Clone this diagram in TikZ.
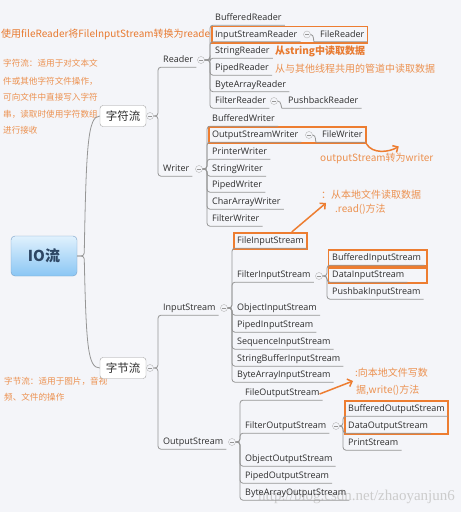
\documentclass[tikz,border=0pt]{standalone}
\usepackage{fontspec}
\setmainfont{Open Sans}
\newfontfamily\cjk{Noto Sans CJK SC}
\newfontfamily\wmfont{Liberation Serif}
\usetikzlibrary{arrows.meta,fit,calc}
\pgfdeclarelayer{back}
\pgfdeclarelayer{mid}
\pgfsetlayers{back,mid,main}
\definecolor{bgc}{RGB}{244,245,249}
\definecolor{linec}{RGB}{150,150,150}
\definecolor{txt}{RGB}{45,45,45}
\definecolor{ora}{RGB}{237,125,49}
\definecolor{oratext}{RGB}{232,122,48}
\definecolor{oralight}{RGB}{236,145,80}
\definecolor{rootTop}{RGB}{224,241,253}
\definecolor{rootBot}{RGB}{138,198,244}
\definecolor{rootLine}{RGB}{120,160,200}
\definecolor{rootTxt}{RGB}{45,70,100}
\tikzset{
  topic/.style={anchor=west, inner xsep=3pt, inner ysep=2.5pt, text height=7pt, text depth=2pt, font=\fontsize{9}{10}\selectfont, text=txt},
  coll/.style={circle, draw=linec!70, fill=bgc, minimum size=7pt, inner sep=0pt,
    path picture={\draw[linec, line width=0.6pt] ([xshift=-2pt]path picture bounding box.center) -- ([xshift=2pt]path picture bounding box.center);}},
  edge/.style={draw=linec, line width=0.8pt, rounded corners=3pt},
  mainbox/.style={draw=linec!90, fill=white, rounded corners=3pt, minimum width=46pt, minimum height=21pt, inner sep=0pt, font=\cjk\fontsize{11.5}{12}\selectfont, text=txt},
  obox/.style={draw=ora, line width=1.6pt, fill=bgc, inner xsep=0pt, inner ysep=1pt},
  oarrow/.style={draw=ora, line width=1.5pt, -{Straight Barb[length=4pt,width=8pt]}},
  note/.style={anchor=west, inner sep=0pt, font=\cjk\fontsize{10}{12}\selectfont, text=oralight},
  sidenote/.style={anchor=west, inner sep=0pt, font=\cjk\fontsize{8.6}{10}\selectfont, text=oralight},
}
\begin{document}
\begin{tikzpicture}[x=1pt,y=-1pt]
\begin{pgfonlayer}{back}
  \fill[bgc] (0,0) rectangle (461,512);
  \node[anchor=east, inner sep=0pt, font=\wmfont\fontsize{15}{15}\selectfont, text=black!20] (wm) at (455,497) {http://blog.csdn.net/zhaoyanjun6};
  \node[note, text=oratext] (annTop) at (1,34) {使用fileReader将FileInputStream转换为reader};
\end{pgfonlayer}
\useasboundingbox (0,0) rectangle (461,512);

% side notes
\node[sidenote] (annC1) at (3,63) {字符流：适用于对文本文};
\node[sidenote] (annC2) at (3,81) {件或其他字符文件操作，};
\node[sidenote] (annC3) at (3,97) {可向文件中直接写入字符};
\node[sidenote] (annC4) at (3,114) {串，读取时使用字符数组};
\node[sidenote] (annC5) at (3,130) {进行接收};
\node[sidenote] (annB1) at (4,381) {字节流：适用于图片，音视};
\node[sidenote] (annB2) at (4,397) {频、文件的操作};

% root and main branches
\node[draw=rootLine, rounded corners=4pt, top color=rootTop, bottom color=rootBot, minimum width=66pt, minimum height=40pt, inner sep=0pt, font=\cjk\bfseries\fontsize{15}{16}\selectfont, text=rootTxt] (root) at (44,256) {IO流};
\node[mainbox] (zf) at (123,116) {字符流};
\node[mainbox] (zj) at (123,368) {字节流};
\draw[edge] (root.east) -- ++(7,0) .. controls +(2,-110) and +(-12,0) .. (zf.west);
\draw[edge] (root.east) -- ++(7,0) .. controls +(2,90) and +(-12,0) .. (zj.west);
\node[coll] (czf) at (150,116) {};
\node[coll] (czj) at (150,368) {};

% level 2
\node[topic] (reader) at (160,60) {Reader};
\node[topic] (writer) at (160,169) {Writer};
\node[topic] (ins) at (160,308) {InputStream};
\node[topic] (outs) at (160,442) {OutputStream};
\foreach \n in {reader,writer}{\draw[edge] (czf.east) -| ([xshift=-2pt]\n.south west) -- (\n.south east);}
\foreach \n in {ins,outs}{\draw[edge] (czj.east) -| ([xshift=-2pt]\n.south west) -- (\n.south east);}
\node[coll] (crd) at (201,60) {};
\node[coll] (cwr) at (199,169) {};
\node[coll] (cin) at (224,308) {};
\node[coll] (cout) at (232,442) {};

% Reader children
\foreach \n/\t/\y in {brd/BufferedReader/18, isr/InputStreamReader/34.5, srd/StringReader/51, prd/PipedReader/68, bard/ByteArrayReader/84.5, frd/FilterReader/101}{
  \node[topic] (\n) at (212,\y) {\t};
  \draw[edge] (crd.east) -| ([xshift=-2pt]\n.south west) -- (\n.south east);
}
\node[coll] (cisr) at (307,34.5) {};
\node[topic] (fr) at (317,34.5) {FileReader};
\draw[edge] (cisr.east) to[out=0,in=180] (fr.south west) -- (fr.south east);
\node[coll] (cfrd) at (274,101) {};
\node[topic] (pbr) at (285,101) {PushbackReader};
\draw[edge] (cfrd.east) to[out=0,in=180] (pbr.south west) -- (pbr.south east);

% Writer children
\foreach \n/\t/\y in {bwr/BufferedWriter/119, osw/OutputStreamWriter/135, pwr/PrinterWriter/152, swr/StringWriter/169, piwr/PipedWriter/185, cawr/CharArrayWriter/202, fwr/FilterWriter/219}{
  \node[topic] (\n) at (209,\y) {\t};
  \draw[edge] (cwr.east) -| ([xshift=-2pt]\n.south west) -- (\n.south east);
}
\node[coll] (cosw) at (309,135) {};
\node[topic] (fw) at (319,135) {FileWriter};
\draw[edge] (cosw.east) to[out=0,in=180] (fw.south west) -- (fw.south east);

% InputStream children
\foreach \n/\t/\y in {fis/FileInputStream/241, filis/FilterInputStream/275, ois/ObjectInputStream/308, pis/PipedInputStream/325, sis/SequenceInputStream/342, sbis/StringBufferInputStream/359, bais/ByteArrayInputStream/375}{
  \node[topic] (\n) at (234,\y) {\t};
  \draw[edge] (cin.east) -| ([xshift=-2pt]\n.south west) -- (\n.south east);
}
\node[coll] (cfilis) at (319,276) {};
\foreach \n/\t/\y in {bis/BufferedInputStream/258, dis/DataInputStream/275, pbis/PushbakInputStream/292}{
  \node[topic] (\n) at (329,\y) {\t};
  \draw[edge] (cfilis.east) -| ([xshift=-2pt]\n.south west) -- (\n.south east);
}

% OutputStream children
\foreach \n/\t/\y in {fos/FileOutputStream/393, filos/FilterOutputStream/426, oos/ObjectOutputStream/459, pos/PipedOutputStream/476, baos/ByteArrayOutputStream/493}{
  \node[topic] (\n) at (242,\y) {\t};
  \draw[edge] (cout.east) -| ([xshift=-2pt]\n.south west) -- (\n.south east);
}
\node[coll] (cfilos) at (336,426) {};
\foreach \n/\t/\y in {bos/BufferedOutputStream/409, dos/DataOutputStream/426, prs/PrintStream/443}{
  \node[topic] (\n) at (345,\y) {\t};
  \draw[edge] (cfilos.east) -| ([xshift=-2pt]\n.south west) -- (\n.south east);
}

% orange boxes
\begin{pgfonlayer}{mid}
  \node[obox, fit=(isr)(fr)] (bxR) {};
  \node[obox, fit=(osw)(fw)] (bxW) {};
  \node[obox, fit=(fis)] (bxF) {};
  \node[obox, fit=(bos)(dos)] (bxO) {};
  \draw[obox] ([xshift=-0.5pt,yshift=1pt]bis.north west) rectangle ($(bis.south east)+(3,1)$);
  \draw[obox] ([xshift=-0.5pt]bis.south west |- dis.north) rectangle ($(bis.south east |- dis.south)+(3,1)$);
\end{pgfonlayer}

% notes
\node[note, text=oratext, font=\cjk\bfseries\fontsize{10}{12}\selectfont] (annS) at (275,51) {从string中读取数据};
\node[note] (annP) at (275,68.5) {从与其他线程共用的管道中读取数据};
\node[note] (annW) at (320,158) {outputStream转为writer};
\node[note] (annR1) at (321,195) {：从本地文件读取数据};
\node[note] (annR2) at (335,209) {.read()方法};
\node[note] (annO1) at (355,373) {:向本地文件写数};
\node[note] (annO2) at (356,390) {据,write()方法};

% orange arrows
\draw[oarrow] (bxW.south east) .. controls +(6,10) and +(-10,6) .. ($(annW.north)+(22,-6)$);
\draw[oarrow] ($(bxF.north east)+(-16,0)$) -- ($(annR1.west)+(5,8)$);
\draw[oarrow] ($(fos.east)+(-3,1)$) -- ($(annO1.west)+(-2,8)$);
\end{tikzpicture}
\end{document}
